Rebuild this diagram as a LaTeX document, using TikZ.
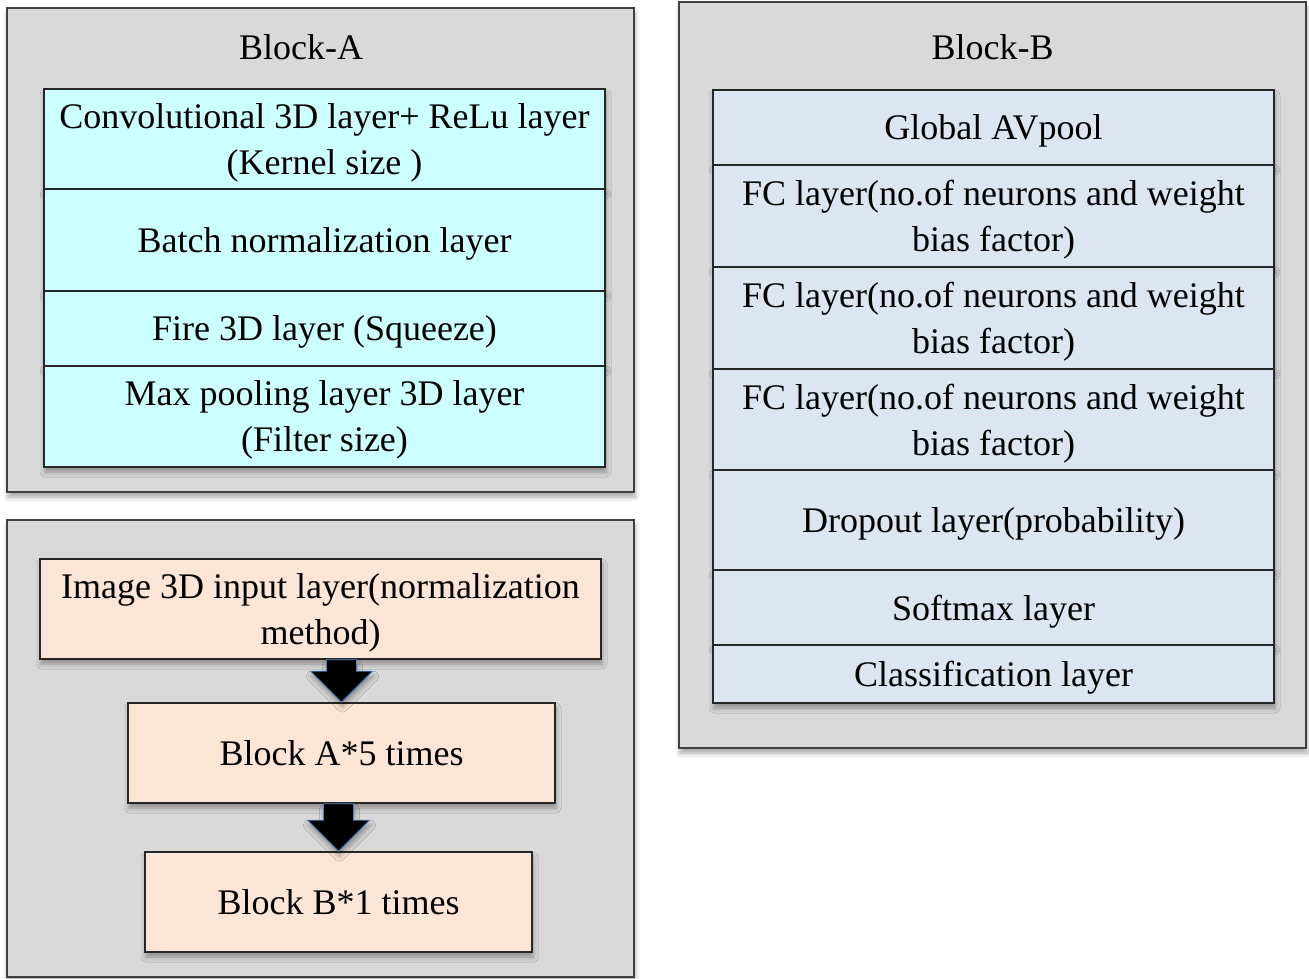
\documentclass[tikz,border=0pt]{standalone}
\usepackage{fontspec}
\setmainfont{Liberation Serif}
\usepackage{xcolor}
\usetikzlibrary{calc}
\usetikzlibrary{shadows.blur}
\definecolor{panelgray}{HTML}{D9D9D9}
\definecolor{layercyan}{HTML}{CCFFFF}
\definecolor{layerblue}{HTML}{DCE6F2}
\definecolor{layerpeach}{HTML}{FBE5D6}
\definecolor{edgegray}{HTML}{404040}
\definecolor{arrowedge}{HTML}{4F81BD}
\newcommand{\lyrxa}{324.5}
\newcommand{\lyrxb}{993.5}
\newcommand{\lyrw}{561pt}
\newcommand{\pnlxl}{320.5}
\newcommand{\pnlxr}{992.5}
\newcommand{\pnlw}{627pt}
\newcommand{\headw}{31}
\newcommand{\shaftw}{15}
\newcommand{\headl}{31}
% fat arrow pointing down from the bottom of #1 to the top of #2
\newcommand{\fatdown}[2]{
  \filldraw[fatarrow]
    ($(#1.south -| #2.north) + (-\shaftw, 0)$)
    -- ($(#1.south -| #2.north) + (\shaftw, 0)$)
    -- ($(#2.north) + (\shaftw, -\headl)$)
    -- ($(#2.north) + (\headw, -\headl)$)
    -- (#2.north)
    -- ($(#2.north) + (-\headw, -\headl)$)
    -- ($(#2.north) + (-\shaftw, -\headl)$)
    -- cycle;}
\tikzset{
  softshadow/.style={blur shadow={shadow xshift=1pt, shadow yshift=-5pt,
    shadow blur radius=5pt, shadow opacity=35}},
  panel/.style={draw=edgegray, line width=1.6pt, fill=panelgray,
    minimum width=\pnlw, softshadow},
  layer/.style={draw=black!85, line width=1.6pt, align=center, inner sep=0pt,
    text depth=0pt, minimum width=\lyrw, minimum height=#1, softshadow},
  cyanlayer/.style={layer=#1, fill=layercyan},
  bluelayer/.style={layer=#1, fill=layerblue},
  flowbox/.style={draw=black!85, line width=1.6pt, align=center, text depth=0pt,
    fill=layerpeach, minimum height=100pt, softshadow},
  fatarrow/.style={fill=black, draw=arrowedge, line width=0.8pt, softshadow},
}
\begin{document}
\begin{tikzpicture}[x=1pt,y=-1pt,font=\fontsize{36}{46}\selectfont]
    \useasboundingbox (0,0) rectangle (1309,978);

    \node[panel, minimum height=484pt] (blockA) at (\pnlxl, 250) {};
    \node[panel, minimum height=457pt] (flow) at (\pnlxl, 748.5) {};
    \node[panel, minimum height=746pt] (blockB) at (\pnlxr, 375) {};

    \node (titleA) at (301, 47) {Block-A};
    \node (titleB) at (992.5, 47) {Block-B};

    % block A layers
    \node[cyanlayer=100pt] (conv) at (\lyrxa, 139)
      {Convolutional 3D layer+ ReLu layer\\(Kernel size )};
    \node[cyanlayer=102pt] (bnorm) at (\lyrxa, 240) {Batch normalization layer};
    \node[cyanlayer=75pt] (fire) at (\lyrxa, 328.5) {Fire 3D layer (Squeeze)};
    \node[cyanlayer=101pt] (maxpool) at (\lyrxa, 416.5)
      {Max pooling layer 3D layer\\(Filter size)};

    % block B layers
    \node[bluelayer=75pt] (avpool) at (\lyrxb, 127.5) {Global AVpool};
    \node[bluelayer=102pt] (fca) at (\lyrxb, 216)
      {FC layer(no.of neurons and weight\\bias factor)};
    \node[bluelayer=102pt] (fcb) at (\lyrxb, 318)
      {FC layer(no.of neurons and weight\\bias factor)};
    \node[bluelayer=101pt] (fcc) at (\lyrxb, 419.5)
      {FC layer(no.of neurons and weight\\bias factor)};
    \node[bluelayer=100pt] (dropout) at (\lyrxb, 520) {Dropout layer(probability)};
    \node[bluelayer=75pt] (softmax) at (\lyrxb, 607.5) {Softmax layer};
    \node[bluelayer=58pt] (classify) at (\lyrxb, 674) {Classification layer};

    % overall flow
    \node[flowbox, minimum width=561pt] (input) at (320.5, 609)
      {Image 3D input layer(normalization\\method)};
    \node[flowbox, minimum width=427pt] (repA) at (341.5, 753) {Block A*5 times};
    \node[flowbox, minimum width=387pt] (repB) at (338.5, 902) {Block B*1 times};

    \fatdown{input}{repA}
    \fatdown{repA}{repB}
  \end{tikzpicture}
\end{document}
